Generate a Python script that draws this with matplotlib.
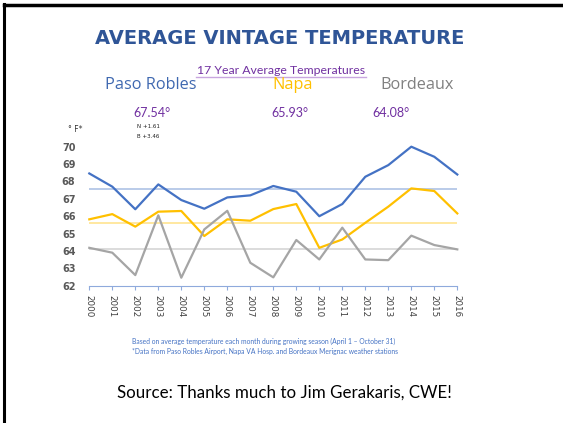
import matplotlib.pyplot as plt
from matplotlib.lines import Line2D

# data
years = list(range(2000, 2017))
paso = [68.46, 67.7, 66.4, 67.83, 66.93, 66.43, 67.08, 67.2, 67.74, 67.41,
        66.0, 66.7, 68.27, 68.94, 70.0, 69.42, 68.4]
napa = [65.82, 66.12, 65.4, 66.26, 66.3, 64.86, 65.82, 65.74, 66.41, 66.7,
        64.18, 64.66, 65.62, 66.55, 67.6, 67.45, 66.16]
bordeaux = [64.18, 63.9, 62.61, 66.05, 62.46, 65.24, 66.31, 63.32, 62.48, 64.63,
            63.51, 65.34, 63.51, 63.47, 64.88, 64.34, 64.09]
avg_lines = [67.54, 65.62, 64.12]   # where the reference lines sit
avg_labels = ['67.54°', '65.93°', '64.08°']
regions = ['Paso Robles', 'Napa', 'Bordeaux']
yticks = [62, 63, 64, 65, 66, 67, 68, 69, 70]

W, H = 563, 423
fig = plt.figure(figsize=(W / 100, H / 100), dpi=100)

# slide frame (left and top edges only)
fig.add_artist(Line2D([4 / W, 4 / W], [0, 1 - 4 / H], color='black', lw=2.2))
fig.add_artist(Line2D([4 / W, 1], [1 - 5.5 / H, 1 - 5.5 / H], color='black', lw=2.5))

ax = fig.add_axes([89.3 / W, 1 - 285.7 / H, 368 / W, 139 / H])

ax.axhline(avg_lines[0], color='#B4C7E7', lw=1.3)
ax.axhline(avg_lines[1], color='#FFE699', lw=1.3)
ax.axhline(avg_lines[2], color='#D9D9D9', lw=1.3)

ax.plot(years, paso, color='#4472C4', lw=1.6, clip_on=False)
ax.plot(years, napa, color='#FFC000', lw=1.6, clip_on=False)
ax.plot(years, bordeaux, color='#A5A5A5', lw=1.6, clip_on=False)

ax.set_xlim(2000, 2016)
ax.set_ylim(62, 70)
ax.set_xticks(years)
ax.set_xticklabels([str(y) for y in years], rotation=270, fontsize=6.3, color='#404040')
ax.set_yticks(yticks)
ax.set_yticklabels([str(v) for v in yticks], fontsize=7, fontweight='bold', color='#595959')
for s in ['top', 'right', 'left']:
    ax.spines[s].set_visible(False)
ax.spines['bottom'].set_color('#8FAADC')
ax.tick_params(axis='x', length=3, color='#8FAADC', pad=4)
ax.tick_params(axis='y', length=0, pad=10)

# title and header texts
fig.text(280 / W, 1 - 38 / H, 'AVERAGE VINTAGE TEMPERATURE', ha='center', va='center',
         fontsize=14, fontweight='heavy', color='#2F5597')
fig.text(281 / W, 1 - 70 / H, '17 Year Average Temperatures', ha='center', va='center',
         fontsize=8.8, color='#7030A0', family='Lato')
fig.add_artist(Line2D([196 / W, 366 / W], [1 - 77 / H, 1 - 77 / H], color='#C9A6E0', lw=1))

fig.text(151 / W, 1 - 85 / H, regions[0], ha='center', va='center', fontsize=11.7,
         color='#3F68B0', family='Open Sans')
fig.text(293 / W, 1 - 85 / H, regions[1], ha='center', va='center', fontsize=11.7,
         color='#FFC000', family='Open Sans')
fig.text(417 / W, 1 - 85 / H, regions[2], ha='center', va='center', fontsize=11.7,
         color='#808080', family='Open Sans')

fig.text(152 / W, 1 - 113 / H, avg_labels[0], ha='center', va='center', fontsize=9,
         color='#7030A0', family='Lato')
fig.text(290 / W, 1 - 113 / H, avg_labels[1], ha='center', va='center', fontsize=9,
         color='#7030A0', family='Lato')
fig.text(391 / W, 1 - 113 / H, avg_labels[2], ha='center', va='center', fontsize=9,
         color='#7030A0', family='Lato')

fig.text(137 / W, 1 - 127 / H, 'N +1.61', ha='left', va='center', fontsize=4, color='#222222')
fig.text(137 / W, 1 - 136 / H, 'B +3.46', ha='left', va='center', fontsize=4, color='#222222')
fig.text(68 / W, 1 - 129 / H, '° F*', ha='left', va='center', fontsize=5.5, color='#333333')

fig.text(132 / W, 1 - 341 / H,
         'Based on average temperature each month during growing season (April 1 \u2013 October 31)',
         ha='left', va='center', fontsize=4.9, color='#4472C4', family='Lato')
fig.text(132 / W, 1 - 351 / H,
         '*Data from Paso Robles Airport, Napa VA Hosp. and Bordeaux Merignac weather stations',
         ha='left', va='center', fontsize=4.9, color='#4472C4', family='Lato')

fig.text(284 / W, 1 - 393 / H, 'Source: Thanks much to Jim Gerakaris, CWE!', ha='center',
         va='center', fontsize=12.2, color='black', family='Lato')

plt.savefig('out.png', dpi=100)
